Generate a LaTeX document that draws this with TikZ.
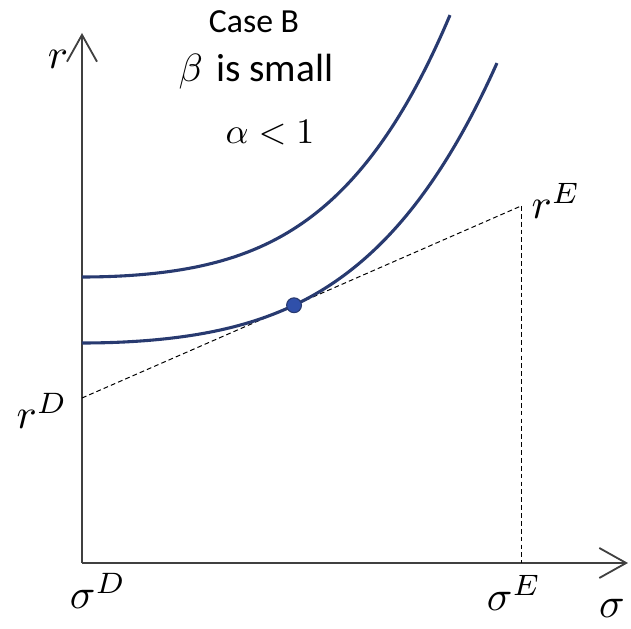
\documentclass[tikz,border=0pt]{standalone}
\usepackage{amsmath}
\usepackage{fontspec}
\newfontfamily\carlito{Carlito}
\usepackage{tikz}
\usetikzlibrary{
	arrows.meta,
	calc
}
\usepackage{xcolor}
\definecolor{curveblue}{RGB}{40,58,112}
\definecolor{dotblue}{RGB}{48,80,170}
\definecolor{axisgray}{RGB}{64,64,64}

\begin{document}
\begin{tikzpicture}[>={Straight Barb[length=6.7mm,width=7.5mm]},scale=1,
		axis/.style={->,axisgray,line width=1.3pt},
		guide/.style={black,line width=0.7pt,dash pattern=on 3.4pt off 2.2pt},
		frontier/.style={curveblue,line width=2.2pt,smooth,samples=80},
		dot/.style={circle,fill=dotblue,draw=curveblue,line width=0.8pt,minimum size=0.37cm,inner sep=0pt},
		lab/.style={scale=3.0,inner sep=0pt}]
		
		\useasboundingbox (-2.05,-1.65) rectangle (13.725,14.075);
		
		%---------------- Axes ----------------%
		
		\coordinate (O) at (0,0);
		\coordinate (ytop) at (0,13.25);
		\coordinate (xend) at (13.65,0);
		
		\draw[axis] (O)--(ytop);
		\draw[axis] (O)--(xend);
		
		\node[lab] (rlab) at (-0.6,12.6) {$r$};
		\node[lab] (sigD) at (0.4,-0.7) {$\sigma^D$};
		\node[lab] (sigE) at (10.8,-0.75) {$\sigma^E$};
		\node[lab] (siglab) at (13.25,-1.125) {$\sigma$};
		
		%---------------- Line D--E ----------------%
		
		\coordinate (rd) at (0,4.125);
		\coordinate (re) at (10.975,8.925);
		\coordinate (se) at (10.975,0);
		
		\draw[guide] (rd)--(re);
		\draw[guide] (re)--(se);
		
		\node[lab] (rdlab) at (-1.0,3.8) {$r^D$};
		\node[lab] (relab) at (11.85,9.05) {$r^E$};
		
		%---------------- Indifference curves ----------------%
		
		\coordinate (T) at ($(rd)!0.483!(re)$);
		
		\draw[frontier] plot[domain=0:9.2] (\x,{7.15+2.59*(\x/10)^2+6.08*(\x/10)^4});
		\draw[frontier] plot[domain=0:10.375] (\x,{5.5+2.246*(\x/10)^2+3.955*(\x/10)^4});
		
		\node[dot] (tp) at (T) {};
		
		%---------------- Case ----------------%
		
		\node[scale=2.4,inner sep=0pt] (case) at (4.3,13.525) {\carlito Case B};
		\node[scale=2.8,inner sep=0pt] (beta) at (4.35,12.275) {$\beta$ \carlito is small};
		\node[scale=2.55,inner sep=0pt] (alpha) at (4.7,10.75) {$\alpha<1$};
		
	\end{tikzpicture}
\end{document}
